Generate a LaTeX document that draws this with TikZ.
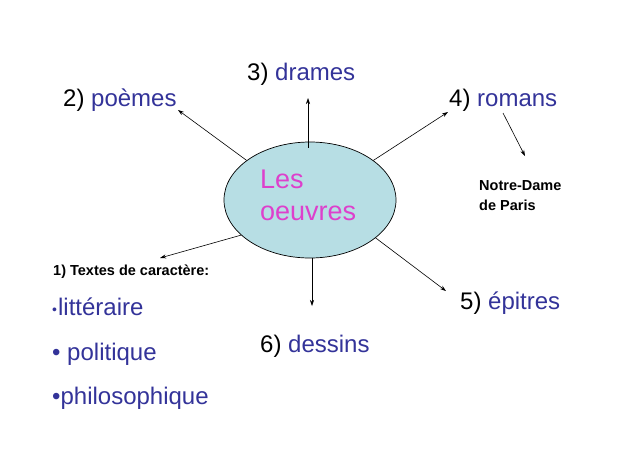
\documentclass[tikz,border=0pt]{standalone}
\usepackage{fontspec}
\setmainfont{Liberation Sans}
\usetikzlibrary{arrows.meta,shapes.geometric}
\definecolor{lblue}{RGB}{51,51,153}
\definecolor{lmag}{RGB}{221,64,204}
\definecolor{lfill}{RGB}{183,222,228}
\tikzset{
  lab/.style={anchor=base west,inner sep=0pt,font=\fontsize{24}{28}\selectfont},
  big/.style={anchor=base west,inner sep=0pt,font=\fontsize{27}{32}\selectfont},
  small/.style={anchor=base west,inner sep=0pt,font=\fontsize{14.5}{17}\selectfont\bfseries},
  arr/.style={-{Stealth[length=6pt,width=4pt]},line width=0.6pt},
}
\begin{document}
\begin{tikzpicture}[x=1pt,y=-1pt]
\useasboundingbox (0,0) rectangle (638,451);
\node[ellipse,draw,fill=lfill,line width=0.7pt,minimum width=172pt,minimum height=116pt,inner sep=0pt] (oe) at (310,200) {};
\node[big,text=lmag] (les) at (260,188) {Les};
\node[big,text=lmag] (oeu) at (260,220) {oeuvres};
\node[lab] (p2) at (63,106) {2) \textcolor{lblue}{poèmes}};
\node[lab] (p3) at (247,80) {3) \textcolor{lblue}{drames}};
\node[lab] (p4) at (449,106) {4) \textcolor{lblue}{romans}};
\node[lab] (p5) at (460,309) {5) \textcolor{lblue}{épitres}};
\node[lab] (p6) at (260,352) {6) \textcolor{lblue}{dessins}};
\node[small] (nd1) at (479,190) {Notre-Dame};
\node[small] (nd2) at (479,210) {de Paris};
\node[small] (tx) at (53,275) {1) Textes de caractère:};
\node[lab,text=lblue] (b1) at (52,315) {{\fontsize{14}{14}\selectfont\raisebox{1pt}{•}}\hspace{1pt}littéraire};
\node[lab,text=lblue] (b2) at (52,360) {• politique};
\node[lab,text=lblue] (b3) at (52,404) {•philosophique};
\coordinate (t2) at (178,110);
\coordinate (t3) at (308,98);
\coordinate (t4) at (448,112);
\coordinate (t1) at (160,258);
\coordinate (t6) at (312,306);
\coordinate (t5) at (446,291);
\coordinate (s4) at (503,113);
\coordinate (t7) at (525,156);
\draw[arr] (oe.148) -- (t2);
\draw[arr] (oe.north -| t3) ++(0,6) -- (t3);
\draw[arr] (oe.32) -- (t4);
\draw[arr] (oe.207) -- (t1);
\draw[arr] (oe.south -| t6) -- (t6);
\draw[arr] (oe.-30) -- (t5);
\draw[arr] (s4) -- (t7);
\end{tikzpicture}
\end{document}
